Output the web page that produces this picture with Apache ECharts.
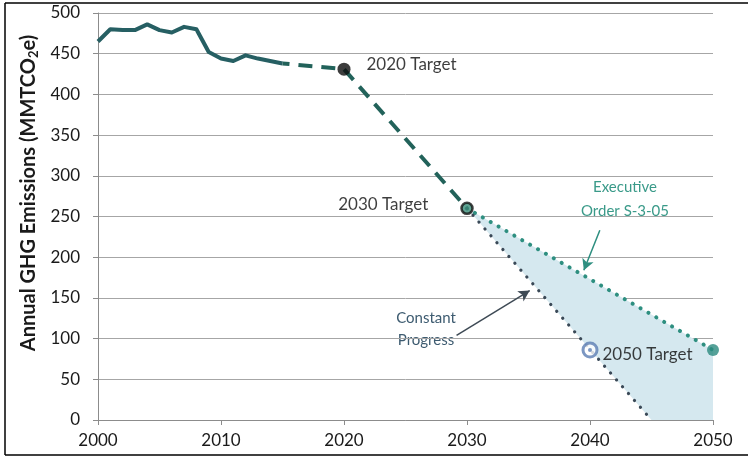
<!DOCTYPE html>
<html>
<head>
<meta charset="utf-8">
<script src="https://cdn.jsdelivr.net/npm/echarts@6.0.0/dist/echarts.min.js"></script>
<style>
  html, body { margin: 0; padding: 0; background: #fff; }
  #chart { width: 748px; height: 457px; }
</style>
</head>
<body>
<div id="chart"></div>
<script>
// historical inventory (solid line)
const histYears = [2000, 2001, 2002, 2003, 2004, 2005, 2006, 2007, 2008, 2009, 2010, 2011, 2012, 2013, 2014, 2015];
const histValues = [465, 480, 479, 479, 486, 479, 476, 483, 480, 452, 444, 441, 448, 444, 441, 438];

// path to targets (dashed)
const pathYears = [2015, 2020, 2030];
const pathValues = [438, 431, 260];

// Executive Order S-3-05 (dotted teal)
const eoYears = [2030, 2050];
const eoValues = [260, 86];

// constant progress (dotted dark)
const cpYears = [2030, 2045];
const cpValues = [260, 0];

// shaded band between the two trajectories
const bandYears = [2030, 2050, 2050, 2045];
const bandValues = [260, 86, 0, 0];

const yTicks = [0, 50, 100, 150, 200, 250, 300, 350, 400, 450, 500];
const xTicks = [2000, 2010, 2020, 2030, 2040, 2050];

const zip = (xs, ys) => xs.map((x, i) => [x, ys[i]]);

const FONT = 'Lato, "Open Sans", sans-serif';
const myChart = echarts.init(document.getElementById('chart'));

const option = {
    backgroundColor: '#fff',
    animation: false,
    grid: { left: 98, right: 35, top: 13, bottom: 37 },
    xAxis: {
        type: 'value',
        min: xTicks[0],
        max: xTicks[xTicks.length - 1],
        interval: 10,
        axisLine: { lineStyle: { color: '#8c8c8c', width: 1 } },
        axisTick: { show: true, inside: false, length: 5, lineStyle: { color: '#8c8c8c' } },
        axisLabel: { color: '#1a1a1a', fontSize: 17, fontFamily: FONT, margin: 12, formatter: v => String(v) },
        splitLine: { show: false }
    },
    yAxis: {
        type: 'value',
        min: yTicks[0],
        max: yTicks[yTicks.length - 1],
        interval: 50,
        axisLine: { show: true, lineStyle: { color: '#8c8c8c', width: 1 } },
        axisTick: { show: true, inside: false, length: 5, lineStyle: { color: '#8c8c8c' } },
        axisLabel: { color: '#1a1a1a', fontSize: 17, fontFamily: FONT, margin: 18 },
        splitLine: { show: true, lineStyle: { color: '#a6a6a6', width: 1 } }
    },
    graphic: [
        { type: 'line', shape: { x1: 5, y1: 3, x2: 748, y2: 3 }, style: { stroke: '#000', lineWidth: 1.5 } },
        { type: 'line', shape: { x1: 5, y1: 3, x2: 5, y2: 455 }, style: { stroke: '#000', lineWidth: 1.5 } },
        { type: 'line', shape: { x1: 5, y1: 455, x2: 748, y2: 455 }, style: { stroke: '#000', lineWidth: 1.5 } },
        {
            type: 'text', x: 29, y: 193, rotation: Math.PI / 2,
            style: {
                text: 'Annual GHG Emissions (MMTCO{sub|2}e)',
                fill: '#1a1a1a', font: 'bold 20px ' + FONT,
                align: 'center', verticalAlign: 'middle',
                rich: { sub: { fontSize: 13, fontWeight: 'bold', fontFamily: FONT, fill: '#1a1a1a', padding: [9, 0, 0, 0] } }
            }
        },
        {
            type: 'text', x: 625, y: 199,
            style: {
                text: 'Executive\nOrder S-3-05', fill: '#3a9a89', font: '15px ' + FONT,
                align: 'center', verticalAlign: 'middle', lineHeight: 24
            }
        },
        {
            type: 'text', x: 426, y: 329,
            style: {
                text: 'Constant\nProgress', fill: '#3d5b70', font: '15px ' + FONT,
                align: 'center', verticalAlign: 'middle', lineHeight: 22
            }
        }
    ],
    series: [
        {
            name: 'band',
            type: 'custom',
            z: 1,
            silent: true,
            data: [0],
            renderItem: function (params, api) {
                const pts = bandYears.map((x, i) => api.coord([x, bandValues[i]]));
                return { type: 'polygon', shape: { points: pts }, style: { fill: '#d5e8ef' } };
            }
        },
        {
            name: 'history',
            type: 'line',
            z: 3,
            data: zip(histYears, histValues),
            showSymbol: false,
            lineStyle: { color: '#265f63', width: 4, join: 'round' }
        },
        {
            name: 'path',
            type: 'line',
            z: 3,
            data: zip(pathYears, pathValues),
            showSymbol: false,
            lineStyle: { color: '#22625a', width: 4, type: [14, 9], dashOffset: -16, cap: 'butt' }
        },
        {
            name: 'eo',
            type: 'line',
            z: 3,
            data: zip(eoYears, eoValues),
            showSymbol: false,
            lineStyle: { color: '#2e8f80', width: 4, type: [0.1, 9], cap: 'round' },
            markLine: {
                silent: true,
                symbol: ['none', 'arrow'],
                symbolSize: [9, 11],
                label: { show: false },
                lineStyle: { color: '#2e8f80', width: 1.5, type: 'solid' },
                data: [[{ coord: [2040.8, 233] }, { coord: [2039.5, 184] }]]
            }
        },
        {
            name: 'cp',
            type: 'line',
            z: 3,
            data: zip(cpYears, cpValues),
            showSymbol: false,
            lineStyle: { color: '#3a4957', width: 3.2, type: [0.1, 9], cap: 'round' },
            markLine: {
                silent: true,
                symbol: ['none', 'arrow'],
                symbolSize: [9, 11],
                label: { show: false },
                lineStyle: { color: '#3e4a55', width: 1.5, type: 'solid' },
                data: [[{ coord: [2029.15, 104] }, { coord: [2035.1, 159] }]]
            }
        },
        {
            name: 'targets',
            type: 'scatter',
            z: 5,
            data: [
                {
                    value: [2020, 431], symbolSize: 13, itemStyle: { color: '#0d0d0d' },
                    label: { show: true, position: 'right', distance: 16, offset: [0, -5], formatter: '2020 Target' }
                },
                {
                    value: [2030, 260], symbolSize: 11, itemStyle: { color: '#3a8c78', borderColor: '#111', borderWidth: 2.5 },
                    label: { show: true, position: 'left', distance: 32, offset: [0, -4], formatter: '2030 Target' }
                },
                {
                    value: [2040, 86], symbolSize: 14, itemStyle: { color: '#fff', borderColor: '#5b7db3', borderWidth: 3 },
                    label: { show: true, position: 'right', distance: 4, offset: [0, 5], formatter: '2050 Target' }
                },
                { value: [2050, 86], symbolSize: 12, itemStyle: { color: '#2a8a7e' } }
            ],
            label: { color: '#0d0d0d', fontSize: 17, fontFamily: FONT }
        },
        {
            name: 'ringDot',
            type: 'scatter',
            z: 6,
            data: [[2040, 86]],
            symbolSize: 4,
            itemStyle: { color: '#5b7db3' }
        }
    ]
};

myChart.setOption(option);
window.addEventListener('resize', () => myChart.resize());
</script>
</body>
</html>
